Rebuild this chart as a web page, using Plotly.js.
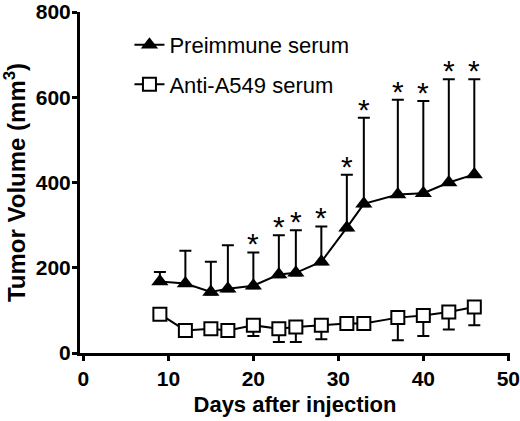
<!DOCTYPE html>
<html>
<head>
<meta charset="utf-8">
<script src="https://cdn.plot.ly/plotly-3.0.1.min.js"></script>
<style>
  html, body { margin: 0; padding: 0; background: #fff; }
  #myPlot { width: 520px; height: 421px; }
</style>
</head>
<body>
<div id="myPlot"></div>
<script>
// days after injection
let days = [9, 12, 15, 17, 20, 23, 25, 28, 31, 33, 37, 40, 43, 46];

// preimmune serum: mean and upper SD
let pre_mean = [168, 163, 143, 151, 158, 184, 188, 214, 294, 350, 372, 375, 400, 419];
let pre_err  = [22, 77, 71, 102, 78, 92, 100, 83, 124, 202, 222, 216, 242, 223];
// 1 = significant (asterisk)
let pre_sig  = [0, 0, 0, 0, 1, 1, 1, 1, 1, 1, 1, 1, 1, 1];

// anti-A549 serum: mean and lower SD
let anti_mean = [91, 53, 57, 53, 65, 57, 61, 65, 69, 69, 83, 88, 96, 108];
let anti_err  = [10, 10, 10, 10, 25, 31, 35, 33, 10, 10, 53, 48, 41, 43];

let zeros = days.map(() => 0);
let small = days.map(() => 6);

var trace1 = {
  x: days,
  y: pre_mean,
  name: 'Preimmune serum',
  legendgroup: 'a',
  type: 'scatter',
  mode: 'lines+markers',
  line: { color: '#000', width: 2 },
  marker: { symbol: 'triangle-up', size: 15, color: '#000' },
  error_y: {
    type: 'data', symmetric: false,
    array: pre_err, arrayminus: small,
    color: '#000', thickness: 2, width: 6
  }
};
var trace2 = {
  x: days,
  y: anti_mean,
  name: 'Anti-A549 serum',
  legendgroup: 'b',
  type: 'scatter',
  mode: 'lines+markers',
  line: { color: '#000', width: 2 },
  marker: { symbol: 'square', size: 13, color: '#fff', line: { color: '#000', width: 2 } },
  error_y: {
    type: 'data', symmetric: false,
    array: zeros, arrayminus: anti_err,
    color: '#000', thickness: 2, width: 6
  }
};

// asterisks above the significant error bars
let stars = [];
for (let i = 0; i < days.length; i++) {
  if (pre_sig[i]) {
    stars.push({
      x: days[i], y: pre_mean[i] + pre_err[i],
      xref: 'x', yref: 'y',
      text: '*', showarrow: false,
      yanchor: 'bottom', yshift: -10,
      font: { family: 'Liberation Sans, Arial, sans-serif', size: 30, color: '#000' }
    });
  }
}

var data = [trace1, trace2];
var layout = {
  width: 520,
  height: 421,
  margin: { l: 80, r: 10, t: 12, b: 68 },
  paper_bgcolor: '#fff',
  plot_bgcolor: '#fff',
  font: { family: 'Liberation Sans, Arial, sans-serif', color: '#000' },
  showlegend: true,
  legend: {
    x: 0.115, y: 0.965, xanchor: 'left', yanchor: 'top',
    traceorder: 'grouped', tracegroupgap: 8,
    bgcolor: 'rgba(0,0,0,0)',
    font: { size: 22, color: '#000' }
  },
  xaxis: {
    range: [-0.4, 50.2],
    tickvals: [0, 10, 20, 30, 40, 50],
    showgrid: false, zeroline: false,
    showline: true, linecolor: '#000', linewidth: 3,
    ticks: 'outside', ticklen: 5, tickwidth: 3, tickcolor: '#000',
    ticklabeloverflow: 'allow',
    tickfont: { size: 21, weight: 'bold' },
    title: { text: 'Days after injection', font: { size: 22, weight: 'bold' }, standoff: 8 }
  },
  yaxis: {
    range: [0, 800],
    tickvals: [0, 200, 400, 600, 800],
    showgrid: false, zeroline: false,
    showline: true, linecolor: '#000', linewidth: 3,
    ticks: 'outside', ticklen: 5, tickwidth: 3, tickcolor: '#000',
    ticklabeloverflow: 'allow',
    ticklabelstandoff: -3,
    tickfont: { size: 21, weight: 'bold' },
    title: { text: 'Tumor Volume (mm<sup>3</sup>)', font: { size: 24, weight: 'bold' }, standoff: 4 }
  },
  annotations: stars
};

Plotly.newPlot("myPlot", data, layout, { displayModeBar: false, staticPlot: true });
</script>
</body>
</html>
